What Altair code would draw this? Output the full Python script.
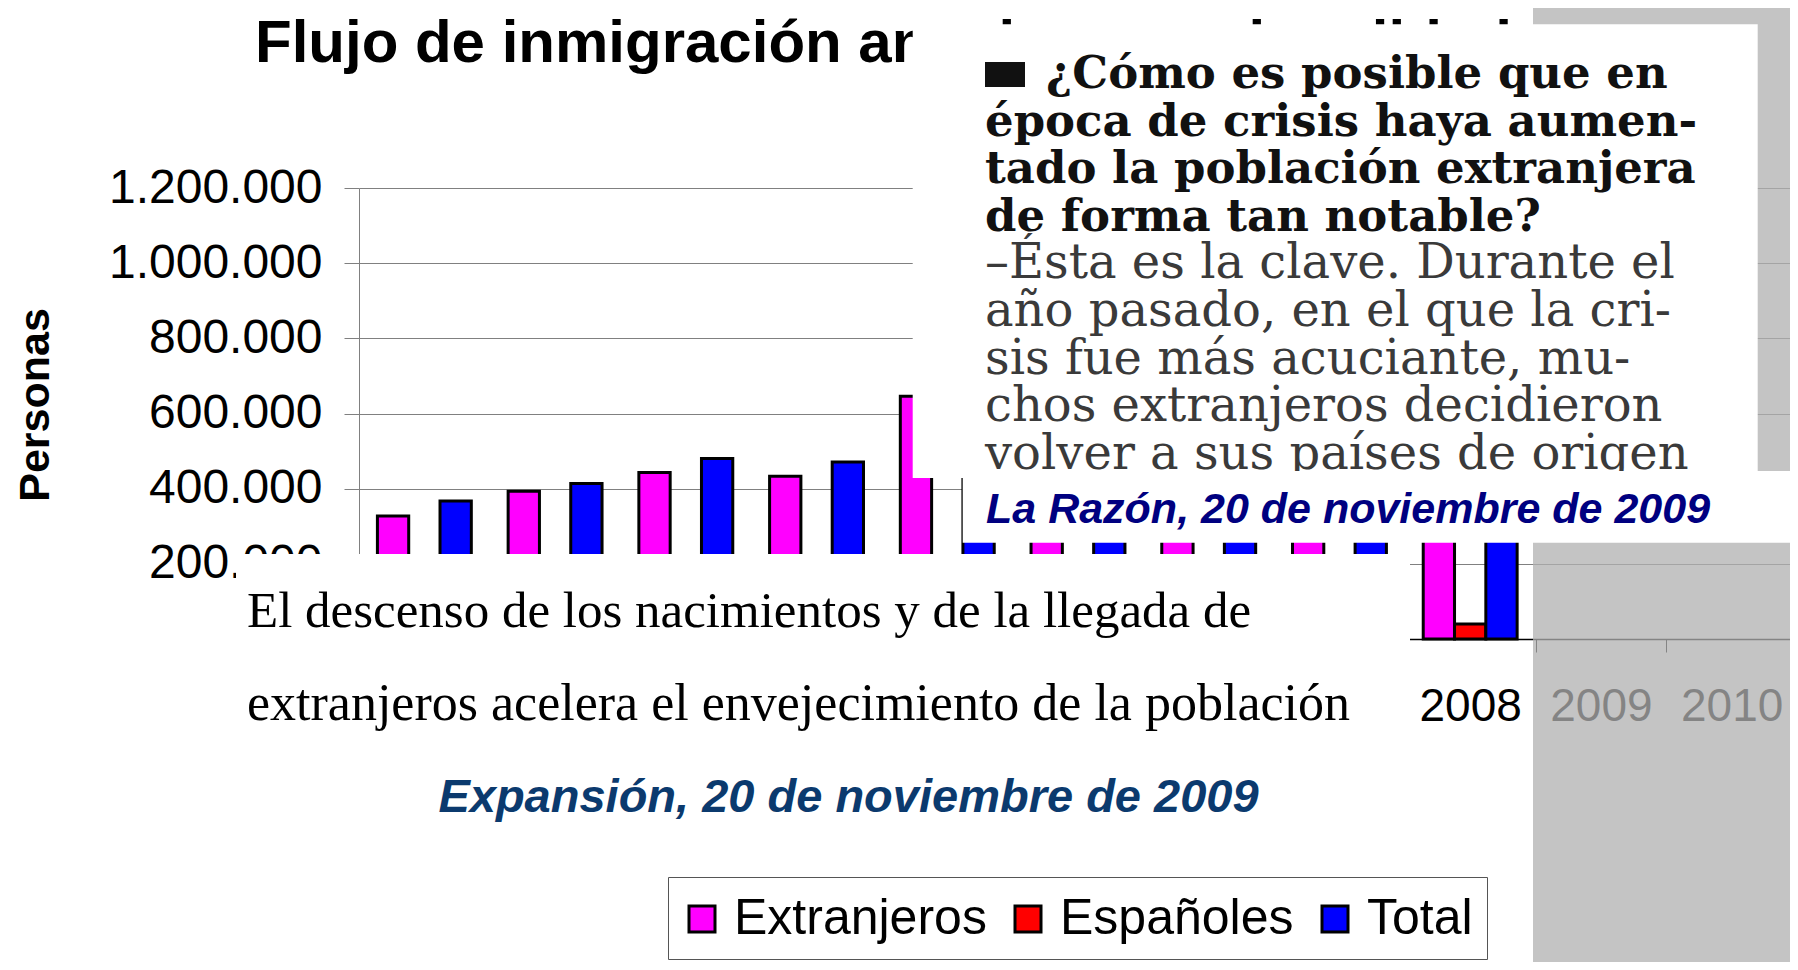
import altair as alt
import pandas as pd

# ---------------- data ----------------
years = ["2000", "2001", "2002", "2003", "2004", "2005", "2006", "2007", "2008", "2009", "2010"]
data_years = ["2000", "2001", "2002", "2003", "2004", "2005", "2006", "2007", "2008"]
series = ["Extranjeros", "Españoles", "Total"]
colors = ["#FF00FF", "#FF0000", "#0000FF"]
extranjeros = [327000, 393000, 443000, 433000, 646000, 682000, 803000, 920000, 692000]
espanoles = [31600, 20700, 40200, 40500, 38700, 36600, 37900, 37700, 40000]
total = [367000, 414000, 480000, 471000, 685000, 719000, 841000, 958000, 726000]
y_ticks = [0, 200000, 400000, 600000, 800000, 1000000, 1200000]

title_text = "Flujo de inmigración anual por nacionalidad"
y_title = "Personas"
razon_lines_q = [
    "¿Cómo es posible que en",
    "época de crisis haya aumen-",
    "tado la población extranjera",
    "de forma tan notable?",
]
razon_lines_a = [
    "–Ésta es la clave. Durante el",
    "año pasado, en el que la cri-",
    "sis fue más acuciante, mu-",
    "chos extranjeros decidieron",
    "volver a sus países de origen",
]
razon_caption = "La Razón, 20 de noviembre de 2009"
headline_lines = [
    "El descenso de los nacimientos y de la llegada de",
    "extranjeros acelera el envejecimiento de la población",
]
expansion_caption = "Expansión, 20 de noviembre de 2009"

rows = []
for i, yr in enumerate(data_years):
    rows.append({"year": yr, "serie": "Extranjeros", "valor": extranjeros[i]})
    rows.append({"year": yr, "serie": "Españoles", "valor": espanoles[i]})
    rows.append({"year": yr, "serie": "Total", "valor": total[i]})
df = pd.DataFrame(rows)

# ---------------- layout ----------------
SANS = "Liberation Sans"
SERIF = "Liberation Serif"
BODY = "DejaVu Serif"
OX, OY = 359, 188          # page position of the plot origin
W, H = 1431, 451
XR = 1438


def px(x):
    return x - OX


def py(y):
    return y - OY


def box(x1, y1, x2, y2, fill="white", opacity=1.0, stroke=None, strokeWidth=0):
    kw = dict(fill=fill, opacity=opacity)
    if stroke is not None:
        kw.update(stroke=stroke, strokeWidth=strokeWidth)
    return alt.Chart(alt.Data(values=[{}])).mark_rect(**kw).encode(
        x=alt.value(px(x1)), x2=alt.value(px(x2)),
        y=alt.value(py(y1)), y2=alt.value(py(y2)),
    )


def label(text, x, y, **kw):
    return alt.Chart(alt.Data(values=[{}])).mark_text(text=text, **kw).encode(
        x=alt.value(px(x)), y=alt.value(py(y))
    )


label_expr = "replace(replace(format(datum.value, ','), ',', '.'), ',', '.')"

bars = alt.Chart(df).mark_bar(stroke="black", strokeWidth=3).encode(
    x=alt.X(
        "year:N",
        scale=alt.Scale(domain=years, range=[0, XR], paddingInner=0, paddingOuter=0),
        axis=alt.Axis(
            title=None, labelAngle=0, labelFont=SANS, labelFontSize=46, labelColor="black",
            labelPadding=32, tickBand="extent", tickSize=13, tickColor="black",
            domainColor="black", domainWidth=1.5, grid=False, zindex=0,
        ),
    ),
    xOffset=alt.XOffset("serie:N", scale=alt.Scale(domain=series, paddingInner=0, paddingOuter=0.588)),
    y=alt.Y(
        "valor:Q",
        scale=alt.Scale(domain=[0, 1200000], nice=False),
        axis=alt.Axis(
            title=None, values=y_ticks, labelExpr=label_expr, labelFont=SANS,
            labelFontSize=48, labelColor="black", labelPadding=22, labelLimit=400,
            tickSize=15, tickColor="#808080", domainColor="#808080",
            gridColor="#808080", gridWidth=1, zindex=0,
        ),
    ),
    color=alt.Color(
        "serie:N",
        scale=alt.Scale(domain=series, range=colors),
        legend=alt.Legend(
            orient="none", legendX=318, legendY=706, direction="horizontal", title=None,
            symbolType="square", symbolSize=676, symbolStrokeColor="black",
            symbolStrokeWidth=3, symbolOpacity=1, labelFont=SANS, labelFontSize=50,
            labelColor="black", labelLimit=500, labelOffset=7, columnPadding=16,
            padding=0,
        ),
    ),
)

title = label(title_text, 255, 62, font=SANS, fontSize=60, fontWeight="bold",
              align="left", baseline="alphabetic", color="black")
ytitle = label(y_title, 36, 405, font=SANS, fontSize=43, fontWeight="bold", angle=270,
               align="center", baseline="middle", color="black")

gray = box(1533, 0, 1800, 970, fill="#b0b0b0", opacity=0.75)
upper_box = box(912.7, 24.3, 1757.7, 478)
square = box(985, 62, 1025, 87, fill="#111111")
caption_box = box(962.7, 471, 1800, 542.7)
headline_box = box(236, 554, 1410, 868)
legend_box = box(668.5, 877.5, 1487.5, 959.5, fill="white", stroke="#555555", strokeWidth=1)

layers = [bars, title, ytitle, gray, upper_box, square]
for i, t in enumerate(razon_lines_q):
    x0 = 1046 if i == 0 else 985
    layers.append(label(t, x0, 88 + 47.6 * i, font=BODY, fontSize=45, fontWeight="bold",
                        align="left", baseline="alphabetic", color="#111111"))
for j, t in enumerate(razon_lines_a):
    layers.append(label(t, 985, 88 + 47.6 * (j + 4), font=BODY, fontSize=48,
                        align="left", baseline="alphabetic", color="#3a3a3a"))
layers.append(caption_box)
layers.append(label(razon_caption, 986, 522.7, font=SANS, fontSize=43, fontWeight="bold",
                    fontStyle="italic", align="left", baseline="alphabetic", color="#000080"))
layers.append(headline_box)
layers.append(label(headline_lines[0], 247, 627, font=SERIF, fontSize=51,
                    align="left", baseline="alphabetic", color="black"))
layers.append(label(headline_lines[1], 247, 720, font=SERIF, fontSize=52,
                    align="left", baseline="alphabetic", color="black"))
layers.append(label(expansion_caption, 848.5, 812, font=SANS, fontSize=47, fontWeight="bold",
                    fontStyle="italic", align="center", baseline="alphabetic", color="#0B3A6E"))
layers.append(legend_box)

chart = alt.layer(*layers).properties(
    width=W, height=H,
    autosize=alt.AutoSizeParams(type="none"),
    padding={"left": 351, "top": 180, "right": 0, "bottom": 323},
    background="white",
).configure_view(stroke=None)

chart.save("out.html", embed_options={"renderer": "svg", "actions": False})
